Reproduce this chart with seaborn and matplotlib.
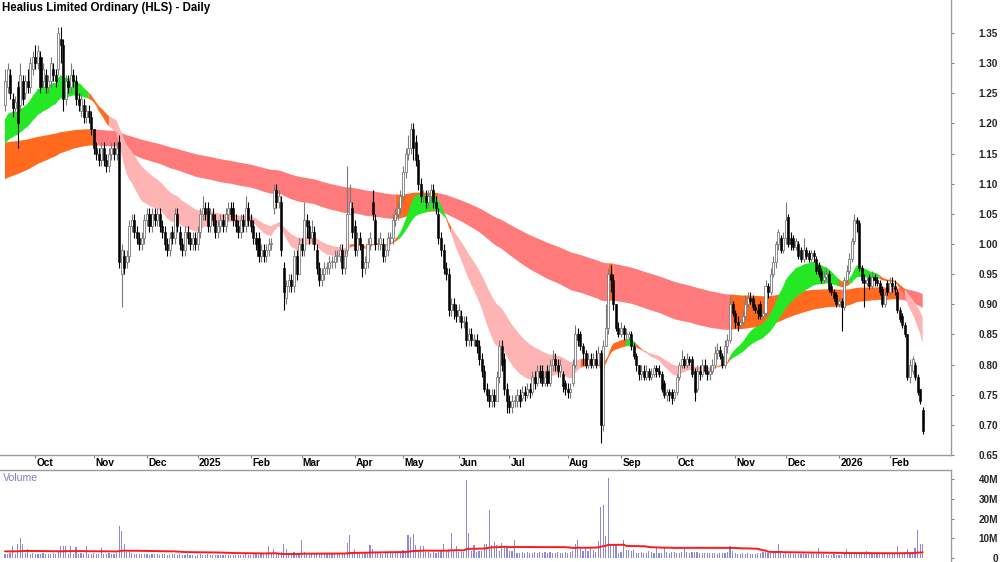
import numpy as np
import pandas as pd
import matplotlib
matplotlib.use("Agg")
import matplotlib.pyplot as plt
import seaborn as sns
from matplotlib.transforms import blended_transform_factory

# ---------------- data ----------------
title = "Healius Limited Ordinary (HLS) - Daily"
last_date = "2026-02-19"
asx_holidays = ["2024-12-25", "2024-12-26", "2025-01-01", "2025-01-27", "2025-04-18",
                "2025-04-21", "2025-04-25", "2025-06-09", "2025-12-25", "2025-12-26",
                "2026-01-01", "2026-01-26"]

opens = [
    1.23,1.26,1.28,1.24,1.225,1.26,1.23,1.27,1.25,1.27,
    1.26,1.29,1.31,1.30,1.31,1.27,1.28,1.26,1.27,1.29,
    1.28,1.29,1.34,1.33,1.24,1.27,1.26,1.28,1.27,1.24,
    1.22,1.23,1.21,1.22,1.21,1.19,1.16,1.15,1.14,1.16,
    1.14,1.13,1.15,1.16,1.15,1.17,0.95,0.98,0.97,0.98,
    1.03,1.04,1.02,1.01,1.00,1.01,1.04,1.05,1.03,1.05,
    1.04,1.05,1.03,1.02,1.00,0.99,1.02,1.01,1.05,1.02,
    1.00,0.99,1.02,1.01,1.00,1.01,1.00,1.02,1.05,1.06,
    1.06,1.03,1.05,1.04,1.02,1.03,1.04,1.03,1.05,1.06,
    1.06,1.04,1.03,1.02,1.04,1.03,1.06,1.04,1.03,1.01,
    1.01,0.98,0.99,0.98,0.99,1.00,1.06,1.09,1.07,1.07,
    0.96,0.91,0.93,0.94,0.93,0.98,0.95,1.00,0.99,1.04,
    1.03,1.01,1.02,0.99,0.96,0.94,0.95,0.96,0.96,0.97,
    0.97,0.98,0.98,0.99,0.96,0.99,1.05,1.06,1.03,0.99,
    1.01,1.00,0.96,0.97,1.00,1.07,1.04,1.00,1.00,1.00,
    0.98,0.99,1.01,1.01,1.04,1.05,1.06,1.08,1.12,1.15,
    1.16,1.19,1.17,1.14,1.10,1.08,1.08,1.07,1.08,1.09,
    1.07,1.05,1.01,0.99,0.96,0.95,0.89,0.90,0.89,0.88,
    0.88,0.87,0.87,0.84,0.85,0.84,0.84,0.83,0.81,0.79,
    0.76,0.75,0.74,0.75,0.74,0.78,0.83,0.81,0.76,0.74,
    0.73,0.74,0.74,0.75,0.745,0.755,0.75,0.76,0.755,0.78,
    0.77,0.79,0.79,0.77,0.79,0.77,0.80,0.81,0.80,0.79,
    0.785,0.77,0.76,0.755,0.77,0.80,0.85,0.85,0.83,0.82,
    0.80,0.81,0.80,0.81,0.80,0.82,0.70,0.83,0.86,0.95,
    0.94,0.90,0.86,0.85,0.86,0.85,0.845,0.85,0.83,0.815,
    0.80,0.785,0.79,0.78,0.79,0.78,0.785,0.795,0.79,0.785,
    0.77,0.75,0.755,0.755,0.745,0.755,0.78,0.80,0.81,0.80,
    0.81,0.81,0.79,0.76,0.79,0.785,0.80,0.79,0.785,0.79,
    0.80,0.82,0.825,0.815,0.80,0.83,0.84,0.90,0.885,0.87,
    0.865,0.87,0.88,0.90,0.91,0.91,0.895,0.89,0.90,0.88,
    0.885,0.93,0.92,0.95,0.97,1.00,1.01,0.99,1.01,1.045,
    1.01,1.01,0.995,1.00,0.99,0.975,0.99,0.985,0.975,0.985,
    0.975,0.965,0.955,0.94,0.945,0.95,0.93,0.92,0.915,0.90,
    0.905,0.895,0.94,0.955,0.975,1.005,1.04,1.035,0.96,0.94,
    0.935,0.945,0.93,0.945,0.94,0.935,0.925,0.90,0.935,0.92,
    0.935,0.93,0.92,0.89,0.88,0.865,0.85,0.78,0.79,0.80,
    0.78,0.76,0.725]

highs = [
    1.29,1.30,1.29,1.25,1.245,1.27,1.30,1.28,1.28,1.29,
    1.31,1.32,1.33,1.33,1.32,1.30,1.29,1.28,1.31,1.30,
    1.29,1.36,1.36,1.34,1.28,1.28,1.30,1.29,1.28,1.25,
    1.25,1.24,1.23,1.23,1.22,1.19,1.17,1.16,1.17,1.17,
    1.15,1.16,1.17,1.17,1.17,1.18,1.00,0.99,0.99,1.04,
    1.05,1.05,1.03,1.02,1.02,1.05,1.06,1.06,1.06,1.06,
    1.06,1.06,1.04,1.03,1.01,1.02,1.03,1.06,1.06,1.03,
    1.01,1.03,1.03,1.02,1.02,1.02,1.03,1.06,1.08,1.07,
    1.07,1.06,1.06,1.05,1.04,1.05,1.05,1.06,1.07,1.07,
    1.07,1.05,1.04,1.05,1.05,1.08,1.07,1.05,1.04,1.02,
    1.02,1.00,1.00,1.00,1.01,1.01,1.10,1.10,1.09,1.08,
    0.97,0.94,0.95,0.95,0.99,0.99,1.01,1.01,1.07,1.05,
    1.04,1.04,1.03,1.00,0.97,0.96,0.97,0.97,0.98,0.98,
    0.99,0.99,1.00,1.00,0.99,1.13,1.10,1.07,1.04,1.02,
    1.02,1.00,0.98,1.01,1.02,1.09,1.05,1.01,1.02,1.01,
    1.00,1.02,1.02,1.05,1.06,1.07,1.09,1.13,1.16,1.18,
    1.20,1.20,1.18,1.15,1.11,1.09,1.09,1.09,1.10,1.10,
    1.08,1.06,1.02,1.00,0.97,0.96,0.91,0.91,0.90,0.90,
    0.89,0.88,0.88,0.86,0.86,0.85,0.85,0.84,0.82,0.80,
    0.77,0.76,0.76,0.76,0.79,0.84,0.84,0.82,0.77,0.75,
    0.75,0.75,0.76,0.76,0.765,0.765,0.77,0.77,0.79,0.79,
    0.80,0.80,0.80,0.79,0.80,0.81,0.825,0.82,0.81,0.81,
    0.79,0.775,0.77,0.77,0.81,0.865,0.86,0.855,0.835,0.825,
    0.82,0.82,0.82,0.825,0.83,0.825,0.84,0.90,0.96,0.965,
    0.95,0.90,0.87,0.87,0.865,0.86,0.855,0.855,0.835,0.82,
    0.80,0.80,0.80,0.80,0.795,0.795,0.80,0.80,0.80,0.79,
    0.775,0.76,0.76,0.76,0.76,0.785,0.805,0.825,0.815,0.82,
    0.815,0.815,0.795,0.80,0.80,0.81,0.81,0.80,0.80,0.81,
    0.83,0.835,0.83,0.82,0.84,0.85,0.915,0.905,0.89,0.88,
    0.875,0.89,0.915,0.92,0.92,0.915,0.90,0.90,0.905,0.89,
    0.94,0.935,0.96,0.98,1.005,1.025,1.015,1.02,1.07,1.05,
    1.02,1.015,1.01,1.005,0.995,1.01,0.995,0.99,0.99,0.99,
    0.98,0.97,0.96,0.955,0.96,0.955,0.935,0.925,0.92,0.91,
    0.91,0.945,0.965,0.985,1.01,1.05,1.045,1.04,0.965,0.95,
    0.945,0.95,0.955,0.95,0.945,0.94,0.93,0.92,0.94,0.945,
    0.945,0.94,0.925,0.895,0.885,0.87,0.85,0.81,0.815,0.805,
    0.785,0.76,0.73]

lows = [
    1.22,1.25,1.24,1.21,1.22,1.16,1.22,1.23,1.24,1.25,
    1.25,1.28,1.29,1.29,1.25,1.26,1.25,1.25,1.26,1.27,
    1.26,1.28,1.30,1.22,1.23,1.25,1.25,1.26,1.23,1.22,
    1.21,1.20,1.20,1.20,1.18,1.15,1.14,1.13,1.13,1.13,
    1.12,1.12,1.14,1.14,1.14,0.96,0.895,0.95,0.96,0.97,
    1.02,1.01,1.00,0.99,0.99,1.00,1.03,1.02,1.02,1.03,
    1.03,1.02,1.01,0.99,0.98,0.98,1.00,1.00,1.02,0.99,
    0.98,0.98,1.00,0.99,0.99,0.99,0.99,1.01,1.04,1.04,
    1.02,1.02,1.03,1.01,1.01,1.02,1.02,1.02,1.04,1.04,
    1.03,1.02,1.01,1.01,1.02,1.02,1.03,1.02,1.00,0.99,
    0.97,0.97,0.97,0.97,0.98,0.99,1.05,1.06,1.06,0.98,
    0.89,0.90,0.92,0.92,0.92,0.94,0.95,0.98,0.98,1.01,
    1.00,1.00,0.99,0.95,0.93,0.93,0.94,0.95,0.95,0.96,
    0.96,0.97,0.97,0.95,0.95,0.98,1.05,1.01,0.98,0.98,
    0.99,0.945,0.95,0.96,0.99,1.04,0.99,0.99,0.99,0.97,
    0.97,0.98,1.00,1.00,1.03,1.04,1.05,1.07,1.11,1.14,
    1.15,1.14,1.13,1.09,1.07,1.07,1.06,1.06,1.07,1.06,
    1.05,1.00,0.98,0.95,0.94,0.88,0.88,0.875,0.87,0.87,
    0.86,0.86,0.83,0.83,0.83,0.83,0.82,0.80,0.78,0.755,
    0.74,0.73,0.73,0.73,0.74,0.77,0.79,0.75,0.72,0.72,
    0.72,0.73,0.73,0.73,0.74,0.74,0.745,0.745,0.75,0.76,
    0.765,0.77,0.765,0.765,0.765,0.765,0.79,0.79,0.78,0.78,
    0.755,0.75,0.745,0.745,0.765,0.795,0.83,0.825,0.80,0.795,
    0.795,0.795,0.795,0.795,0.80,0.67,0.69,0.83,0.85,0.92,
    0.89,0.855,0.845,0.845,0.84,0.84,0.84,0.825,0.81,0.79,
    0.775,0.775,0.775,0.775,0.775,0.775,0.78,0.78,0.78,0.755,
    0.745,0.74,0.74,0.735,0.74,0.75,0.775,0.795,0.795,0.795,
    0.80,0.78,0.74,0.755,0.775,0.78,0.785,0.775,0.775,0.785,
    0.795,0.81,0.81,0.795,0.795,0.82,0.835,0.88,0.86,0.855,
    0.86,0.865,0.875,0.895,0.90,0.89,0.885,0.875,0.875,0.875,
    0.88,0.91,0.915,0.945,0.96,0.99,0.985,0.985,1.00,0.995,
    0.99,0.99,0.99,0.975,0.97,0.97,0.975,0.97,0.97,0.97,
    0.95,0.945,0.935,0.935,0.94,0.92,0.915,0.905,0.895,0.895,
    0.855,0.89,0.935,0.95,0.97,1.00,1.02,0.955,0.935,0.895,
    0.93,0.925,0.925,0.93,0.93,0.915,0.895,0.895,0.915,0.915,
    0.92,0.915,0.885,0.87,0.86,0.845,0.775,0.77,0.785,0.775,
    0.75,0.735,0.685]

closes = [
    1.27,1.29,1.25,1.225,1.235,1.20,1.28,1.24,1.27,1.26,
    1.30,1.31,1.30,1.32,1.26,1.29,1.26,1.27,1.30,1.28,
    1.27,1.35,1.33,1.24,1.27,1.26,1.28,1.27,1.24,1.23,
    1.24,1.21,1.22,1.21,1.19,1.16,1.15,1.14,1.16,1.14,
    1.13,1.15,1.16,1.15,1.16,0.97,0.99,0.96,0.98,1.03,
    1.04,1.02,1.01,1.00,1.01,1.04,1.05,1.03,1.05,1.04,
    1.05,1.03,1.02,1.00,0.99,1.01,1.01,1.05,1.03,1.00,
    0.99,1.02,1.01,1.00,1.01,1.00,1.02,1.05,1.06,1.05,
    1.03,1.05,1.04,1.02,1.03,1.04,1.03,1.05,1.06,1.05,
    1.04,1.03,1.02,1.04,1.03,1.06,1.04,1.03,1.01,1.00,
    0.98,0.99,0.98,0.99,1.00,1.00,1.09,1.07,1.08,0.99,
    0.92,0.93,0.94,0.93,0.98,0.95,1.00,0.99,1.04,1.03,
    1.01,1.02,1.00,0.96,0.94,0.95,0.96,0.96,0.97,0.97,
    0.98,0.98,0.99,0.96,0.98,1.05,1.07,1.02,0.99,1.01,
    1.00,0.96,0.97,1.00,1.01,1.05,1.00,1.00,1.01,0.98,
    0.99,1.01,1.01,1.04,1.05,1.06,1.08,1.12,1.15,1.16,
    1.19,1.16,1.14,1.10,1.08,1.08,1.07,1.08,1.09,1.07,
    1.06,1.01,0.99,0.96,0.95,0.89,0.90,0.89,0.88,0.89,
    0.87,0.87,0.84,0.85,0.84,0.84,0.83,0.81,0.79,0.76,
    0.75,0.74,0.75,0.74,0.78,0.83,0.80,0.76,0.74,0.73,
    0.74,0.74,0.75,0.74,0.755,0.75,0.76,0.755,0.78,0.77,
    0.79,0.78,0.77,0.78,0.77,0.80,0.81,0.80,0.79,0.80,
    0.765,0.76,0.755,0.76,0.80,0.85,0.84,0.83,0.82,0.80,
    0.81,0.80,0.81,0.80,0.82,0.70,0.83,0.86,0.95,0.94,
    0.90,0.86,0.85,0.86,0.85,0.85,0.85,0.83,0.815,0.80,
    0.785,0.79,0.78,0.79,0.78,0.785,0.795,0.79,0.785,0.76,
    0.75,0.755,0.75,0.745,0.755,0.78,0.80,0.81,0.80,0.81,
    0.805,0.785,0.755,0.79,0.785,0.80,0.79,0.785,0.79,0.80,
    0.82,0.825,0.815,0.80,0.83,0.84,0.90,0.885,0.87,0.865,
    0.87,0.88,0.90,0.91,0.905,0.895,0.89,0.885,0.88,0.885,
    0.93,0.92,0.95,0.97,1.00,1.02,0.99,1.01,1.04,1.00,
    1.00,0.995,1.005,0.98,0.975,0.99,0.98,0.975,0.985,0.98,
    0.955,0.95,0.94,0.945,0.95,0.925,0.92,0.91,0.90,0.905,
    0.895,0.94,0.955,0.975,1.005,1.04,1.035,0.96,0.94,0.935,
    0.94,0.93,0.945,0.94,0.935,0.92,0.90,0.915,0.92,0.935,
    0.93,0.925,0.89,0.875,0.865,0.85,0.78,0.80,0.81,0.78,
    0.755,0.74,0.69]

volume_m = [
    2.2,2.0,2.4,5.9,2.2,7.3,10.1,7.3,2.5,4.7,
    2.1,2.3,1.8,2.2,2.0,2.4,1.9,2.2,2.0,2.3,
    2.1,3.0,5.9,6.0,5.9,2.2,5.9,2.0,5.6,2.1,
    2.3,1.9,5.9,2.2,2.0,2.4,2.1,1.9,5.2,2.2,
    2.0,2.3,1.8,2.1,2.4,16.4,13.5,6.9,2.8,3.9,
    2.4,2.2,2.0,1.8,2.1,1.9,2.0,1.7,1.9,2.2,
    1.8,1.6,1.9,2.1,1.7,1.5,1.8,2.0,1.6,1.9,
    1.7,1.5,1.8,1.4,1.6,1.2,1.5,1.9,1.7,1.6,
    1.8,1.5,1.7,1.4,1.6,1.3,1.5,1.7,1.6,1.4,
    1.5,1.3,1.6,1.4,1.7,2.2,1.5,1.6,1.9,2.0,
    1.7,2.1,1.8,2.0,5.9,2.2,4.5,2.4,2.2,3.0,
    7.3,4.7,2.6,2.4,2.8,2.2,2.5,9.0,2.8,2.4,
    2.6,2.2,2.4,2.0,2.3,2.1,1.9,2.2,2.0,2.3,
    2.1,1.9,2.2,2.0,2.4,7.6,11.5,3.0,4.7,2.6,
    2.4,2.2,2.3,2.6,6.4,4.7,2.8,2.4,2.6,2.2,
    2.5,2.3,2.7,2.9,2.6,3.0,3.2,4.0,3.5,11.5,
    10.6,12.0,6.8,3.4,5.9,5.9,3.0,2.8,2.6,3.0,
    2.7,3.2,3.8,6.9,3.4,4.5,12.8,3.6,5.9,3.2,
    2.8,3.1,39.4,12.5,3.4,6.4,3.0,3.4,3.4,7.3,
    7.3,24.2,6.4,8.1,6.8,3.4,7.8,5.6,5.6,3.4,
    3.4,9.3,2.7,2.4,2.9,2.6,2.8,2.3,2.7,3.0,
    2.5,2.8,2.4,2.9,2.6,3.2,2.7,2.4,3.0,2.6,
    2.5,2.9,2.7,3.1,3.4,6.9,9.0,5.6,3.4,5.6,
    3.4,5.6,4.0,3.2,8.5,25.9,26.7,11.0,40.7,6.4,
    6.4,6.4,2.7,3.2,9.3,3.9,3.9,3.6,3.9,2.7,
    2.4,2.9,2.6,2.5,3.4,2.8,2.6,5.6,2.7,2.5,
    5.6,2.9,2.6,2.8,3.1,2.7,2.5,2.9,5.6,3.0,
    2.6,2.9,3.2,2.8,2.5,2.4,2.6,2.3,2.7,2.5,
    2.4,2.2,2.6,2.3,2.5,3.0,5.9,3.4,2.6,2.2,
    2.1,2.4,2.0,2.3,2.1,1.9,2.2,2.7,2.5,2.8,
    3.0,2.6,2.9,2.7,3.1,7.3,2.6,2.2,2.4,2.0,
    2.3,2.1,1.9,2.2,2.0,2.4,1.8,2.1,2.3,1.9,
    2.2,5.1,2.0,1.8,1.6,1.7,1.5,1.8,1.6,1.4,
    1.7,1.9,4.7,2.1,2.4,2.2,1.9,2.6,2.2,2.0,
    3.4,2.1,2.3,1.9,2.2,2.0,2.4,2.1,1.9,2.2,
    2.0,2.3,6.1,2.7,2.5,2.8,4.4,2.6,2.9,5.1,
    14.0,7.3,7.3]

# moving-average ribbons (periods) and their starting values read at the left edge
short_periods = [20, 24, 28, 32, 37, 42]
short_start = [1.20, 1.19, 1.18, 1.175, 1.17, 1.16]
long_periods = [150, 170, 190, 210, 230, 250]
long_start = [1.105, 1.115, 1.127, 1.14, 1.153, 1.167]
volume_ma_period = 63
volume_ma_start = 3.4

price_ticks = [0.65, 0.70, 0.75, 0.80, 0.85, 0.90, 0.95, 1.00, 1.05, 1.10, 1.15, 1.20, 1.25, 1.30, 1.35]
volume_ticks = [0, 10, 20, 30, 40]
volume_tick_labels = ["0", "10M", "20M", "30M", "40M"]

# ---------------- computations ----------------
o = np.array(opens); h = np.array(highs); l = np.array(lows); c = np.array(closes)
v = np.array(volume_m)
N = len(c)
assert len(o) == N and len(h) == N and len(l) == N and len(v) == N
idx = np.arange(N)
dates = pd.bdate_range(end=last_date, periods=N, freq="C", holidays=asx_holidays)


def ema(values, period, start):
    a = 2.0 / (period + 1)
    out = np.empty(len(values))
    prev = start
    for i, val in enumerate(values):
        prev = prev + a * (val - prev)
        out[i] = prev
    return out


def ribbon(periods, starts):
    E = np.array([ema(c, p, s) for p, s in zip(periods, starts)])
    prevE = np.concatenate([np.array(starts)[:, None], E[:, :-1]], axis=1)
    d = E - prevE
    bull = (np.diff(E, axis=0) < 0).all(axis=0)   # fastest on top
    bear = (np.diff(E, axis=0) > 0).all(axis=0)   # fastest at bottom
    return E.min(axis=0), E.max(axis=0), (d > 0).all(axis=0), (d < 0).all(axis=0), bull, bear


s_lo, s_hi, s_up, s_dn, s_bull, s_bear = ribbon(short_periods, short_start)
l_lo, l_hi, l_up, l_dn, l_bull, l_bear = ribbon(long_periods, long_start)

GREEN, PINK, ORANGE, RED = "#25e825", "#ffb4b4", "#ff6a1f", "#ff7a7a"
short_col = np.where(s_bull, GREEN, np.where(s_bear, PINK, ORANGE))
long_col = np.where(l_dn, RED, ORANGE)

# seeded running mean for volume
cs = np.cumsum(v)
vma = np.empty(N)
for i in range(N):
    j0 = max(0, i - volume_ma_period + 1)
    s = cs[i] - (cs[j0 - 1] if j0 > 0 else 0.0)
    cnt = i - j0 + 1
    vma[i] = (s + volume_ma_start * (volume_ma_period - cnt)) / volume_ma_period

# ---------------- plotting ----------------
sns.set_theme(style="white")
plt.rcParams["font.family"] = ["Liberation Sans", "DejaVu Sans"]

W, H = 1000, 562
fig = plt.figure(figsize=(10, 5.62), dpi=100)
ax = fig.add_axes([0, 1 - 455 / H, 951 / W, 455 / H])
axv = fig.add_axes([0, 0, 951 / W, 1 - 470 / H])

px = 2.535  # pixels per trading day in the reference
x0 = 5.0
xlim = (-x0 / px, (951 - x0) / px)


def fill_band(axis, lo, hi, cols, z):
    for col in np.unique(cols):
        m = cols == col
        m2 = m.copy()
        m2[1:] |= m[:-1]
        axis.fill_between(idx, lo, hi, where=m2, color=col, linewidth=0, zorder=z)


fill_band(ax, l_lo, l_hi, long_col, 1)
fill_band(ax, s_lo, s_hi, short_col, 2)

up = c >= o
wick_cols = np.where(up, "#7a7a7a", "#000000")
ax.vlines(idx, l, h, colors=wick_cols, linewidth=0.8, zorder=3)
body_bottom = np.minimum(o, c)
body_h = np.maximum(np.abs(c - o), 0.002)
ax.bar(idx[up], body_h[up], bottom=body_bottom[up], width=0.8, color="white",
       edgecolor="#7a7a7a", linewidth=0.6, zorder=4)
ax.bar(idx[~up], body_h[~up], bottom=body_bottom[~up], width=0.8, color="black",
       edgecolor="black", linewidth=0.4, zorder=4)

ax.set_xlim(*xlim)
ax.set_ylim(0.65, 1.35 + 33 * 0.7 / 422)

# right price axis
ax.yaxis.tick_right()
ax.set_yticks(price_ticks)
ax.set_yticklabels([f"{t:.2f}" for t in price_ticks])
ax.tick_params(axis="y", which="both", right=True, left=False, length=2.5, width=0.8,
               color="#808080", direction="out", pad=31.5, labelsize=7.2)
for lab in ax.get_yticklabels():
    lab.set_fontweight("bold")
    lab.set_horizontalalignment("right")

# month ticks and labels
month_pos = [i for i in range(1, N) if dates[i].month != dates[i - 1].month]
month_lab = [str(dates[i].year) if dates[i].month == 1 else dates[i].strftime("%b") for i in month_pos]
ax.set_xticks(month_pos)
ax.set_xticklabels([])
ax.tick_params(axis="x", bottom=True, length=2.5, width=0.8, color="#808080", direction="out")
trans = blended_transform_factory(ax.transData, ax.transAxes)
for p, lab in zip(month_pos, month_lab):
    ax.text(p + 0.5, -8.5 / 455, lab, transform=trans, ha="left", va="center",
            fontsize=7.3, fontweight="bold", color="black", clip_on=False)

for side in ["top", "left"]:
    ax.spines[side].set_visible(False)
for side in ["right", "bottom"]:
    ax.spines[side].set_color("#9a9a9a")
    ax.spines[side].set_linewidth(1.0)
ax.grid(False)

ax.text(2 / 951, 1 - 2 / 455, title, transform=ax.transAxes, ha="left", va="top",
        fontsize=8.3, fontweight="bold", color="black")

# volume panel
axv.bar(idx, v, width=0.45, color="#8a8ad6", linewidth=0, zorder=2)
sns.lineplot(x=idx, y=vma, ax=axv, color="#ff1a1a", linewidth=1.4, zorder=3, legend=False)
axv.set_xlim(*xlim)
px_per_m = 19.7 / 10
axv.set_ylim(-(562 - 558) / px_per_m, (558 - 470) / px_per_m)
axv.yaxis.tick_right()
axv.set_yticks(volume_ticks)
axv.set_yticklabels(volume_tick_labels)
axv.tick_params(axis="y", right=True, left=False, length=2.5, width=0.8, color="#808080",
                direction="out", pad=31.5, labelsize=7.2)
for lab in axv.get_yticklabels():
    lab.set_fontweight("bold")
    lab.set_horizontalalignment("right")
axv.set_xticks([])
axv.set_xlabel("")
axv.set_ylabel("")
for side in ["left", "bottom"]:
    axv.spines[side].set_visible(False)
for side in ["top", "right"]:
    axv.spines[side].set_color("#9a9a9a")
    axv.spines[side].set_linewidth(1.0)
axv.grid(False)
axv.text(3 / 951, 1 - 3 / 92, "Volume", transform=axv.transAxes, ha="left", va="top",
         fontsize=7.6, color="#7f7fc4")

fig.savefig("out.png", dpi=100)
